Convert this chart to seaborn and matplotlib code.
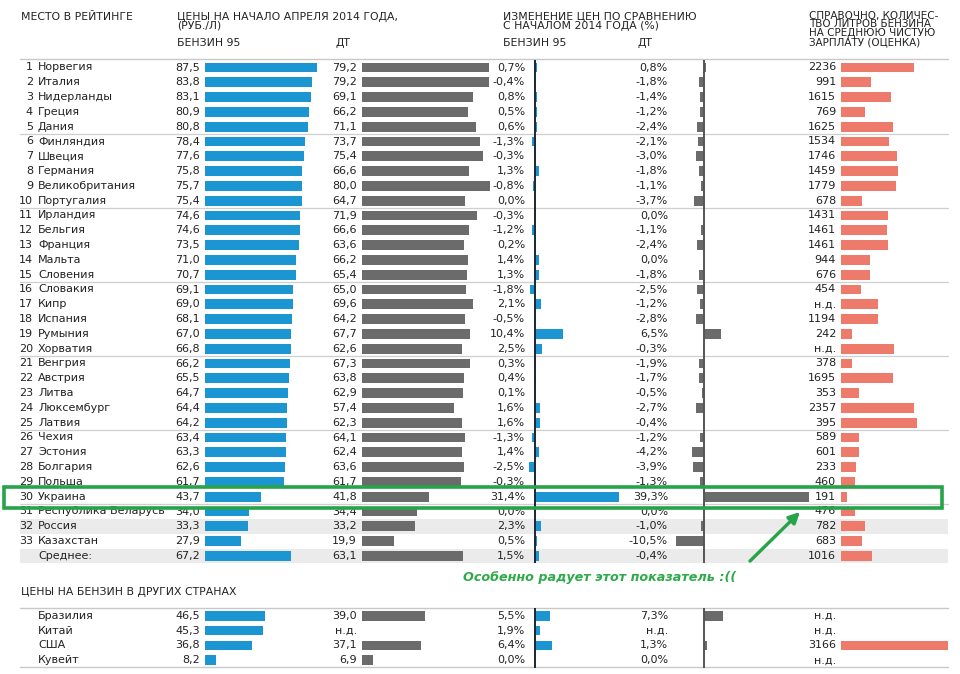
import numpy as np
import pandas as pd
import seaborn as sns
import matplotlib.pyplot as plt
from matplotlib.patches import Rectangle

# --- data ---
ranks = [str(i) for i in range(1, 34)] + [""]
countries = ["Норвегия", "Италия", "Нидерланды", "Греция", "Дания",
             "Финляндия", "Швеция", "Германия", "Великобритания", "Португалия",
             "Ирландия", "Бельгия", "Франция", "Мальта", "Словения",
             "Словакия", "Кипр", "Испания", "Румыния", "Хорватия",
             "Венгрия", "Австрия", "Литва", "Люксембург", "Латвия",
             "Чехия", "Эстония", "Болгария", "Польша", "Украина",
             "Республика Беларусь", "Россия", "Казахстан", "Среднее:"]
gas95 = [87.5, 83.8, 83.1, 80.9, 80.8, 78.4, 77.6, 75.8, 75.7, 75.4,
         74.6, 74.6, 73.5, 71.0, 70.7, 69.1, 69.0, 68.1, 67.0, 66.8,
         66.2, 65.5, 64.7, 64.4, 64.2, 63.4, 63.3, 62.6, 61.7, 43.7,
         34.0, 33.3, 27.9, 67.2]
diesel = [79.2, 79.2, 69.1, 66.2, 71.1, 73.7, 75.4, 66.6, 80.0, 64.7,
          71.9, 66.6, 63.6, 66.2, 65.4, 65.0, 69.6, 64.2, 67.7, 62.6,
          67.3, 63.8, 62.9, 57.4, 62.3, 64.1, 62.4, 63.6, 61.7, 41.8,
          34.4, 33.2, 19.9, 63.1]
gas95_chg = [0.7, -0.4, 0.8, 0.5, 0.6, -1.3, -0.3, 1.3, -0.8, 0.0,
             -0.3, -1.2, 0.2, 1.4, 1.3, -1.8, 2.1, -0.5, 10.4, 2.5,
             0.3, 0.4, 0.1, 1.6, 1.6, -1.3, 1.4, -2.5, -0.3, 31.4,
             0.0, 2.3, 0.5, 1.5]
diesel_chg = [0.8, -1.8, -1.4, -1.2, -2.4, -2.1, -3.0, -1.8, -1.1, -3.7,
              0.0, -1.1, -2.4, 0.0, -1.8, -2.5, -1.2, -2.8, 6.5, -0.3,
              -1.9, -1.7, -0.5, -2.7, -0.4, -1.2, -4.2, -3.9, -1.3, 39.3,
              0.0, -1.0, -10.5, -0.4]
liters_label = ["2236", "991", "1615", "769", "1625", "1534", "1746", "1459",
                "1779", "678", "1431", "1461", "1461", "944", "676", "454",
                "н.д.", "1194", "242", "н.д.", "378", "1695", "353", "2357",
                "395", "589", "601", "233", "460", "191", "476", "782",
                "683", "1016"]
# bar lengths as drawn in the original (they do not always follow the labels)
liters_bar = [2150, 897, 1480, 719, 1539, 1420, 1657, 1687, 1627, 612,
              1391, 1361, 1391, 858, 867, 601, 1095, 1086, 334, 1568,
              334, 1548, 541, 2151, 2258, 533, 541, 453, 414, 169,
              423, 710, 612, 917]

other_countries = ["Бразилия", "Китай", "США", "Кувейт"]
other_gas95 = [46.5, 45.3, 36.8, 8.2]
other_diesel = [39.0, None, 37.1, 6.9]
other_gas95_chg = [5.5, 1.9, 6.4, 0.0]
other_diesel_chg = [7.3, None, 1.3, 0.0]
other_liters_label = ["н.д.", "н.д.", "3166", "н.д."]
other_liters_bar = [None, None, 3166, None]

BLUE = "#1b96d3"
GREY = "#6b6b6b"
SALMON = "#ee7a6c"
GREEN = "#27a34a"
TXT = "#222222"
W, H = 960, 674


def fmt(v, pct=False):
    if v is None:
        return "н.д."
    s = f"{v:.1f}".replace(".", ",")
    return s + "%" if pct else s


def px_axes(fig, x0, x1, y0, y1):
    ax = fig.add_axes([x0 / W, 1 - y1 / H, (x1 - x0) / W, (y1 - y0) / H], zorder=2)
    return ax


def bars(ax, names, values, color, xlim, zero_color=None):
    df = pd.DataFrame({"name": names, "v": pd.to_numeric(pd.Series(values), errors="coerce")}).dropna()
    sns.barplot(data=df, x="v", y="name", order=names, orient="h", color=color,
                saturation=1, width=0.66, errorbar=None, linewidth=0, ax=ax)
    ax.set_xlim(*xlim)
    ax.set_ylim(len(names) - 0.5, -0.5)
    if zero_color:
        ax.axvline(0, color=zero_color, lw=1.4)
    ax.axis("off")


def main():
    sns.set_theme(style="white")
    plt.rcParams["font.family"] = ["DejaVu Sans"]
    fig = plt.figure(figsize=(9.6, 6.74), dpi=100)

    bg = fig.add_axes([0, 0, 1, 1], zorder=0)
    bg.set_xlim(0, W)
    bg.set_ylim(H, 0)
    bg.axis("off")

    top0, step = 67.5, 14.8
    y_top0, y_top1 = top0 - step / 2, top0 + 33 * step + step / 2
    b0, bstep = 615.7, 14.87
    y_bot0, y_bot1 = b0 - bstep / 2, b0 + 3 * bstep + bstep / 2

    # headers
    hs = 7.8
    bg.text(21, 16.5, "МЕСТО В РЕЙТИНГЕ", fontsize=hs, color=TXT, va="center")
    bg.text(177, 16.5, "ЦЕНЫ НА НАЧАЛО АПРЕЛЯ 2014 ГОДА,", fontsize=hs, color=TXT, va="center")
    bg.text(177, 26, "(РУБ./Л)", fontsize=hs, color=TXT, va="center")
    bg.text(177, 42.5, "БЕНЗИН 95", fontsize=hs, color=TXT, va="center")
    bg.text(335, 42.5, "ДТ", fontsize=hs, color=TXT, va="center")
    bg.text(503, 16.5, "ИЗМЕНЕНИЕ ЦЕН ПО СРАВНЕНИЮ", fontsize=hs, color=TXT, va="center")
    bg.text(503, 26, "С НАЧАЛОМ 2014 ГОДА (%)", fontsize=hs, color=TXT, va="center")
    bg.text(503, 42.5, "БЕНЗИН 95", fontsize=hs, color=TXT, va="center")
    bg.text(637, 42.5, "ДТ", fontsize=hs, color=TXT, va="center")
    for k, line in enumerate(["СПРАВОЧНО, КОЛИЧЕС-", "ТВО ЛИТРОВ БЕНЗИНА",
                              "НА СРЕДНЮЮ ЧИСТУЮ", "ЗАРПЛАТУ (ОЦЕНКА)"]):
        bg.text(809, 15.5 + 8.8 * k, line, fontsize=7.5, color=TXT, va="center")
    bg.plot([20, 948], [59, 59], color="#c8c8c8", lw=1)

    # shaded rows and group separators
    for i in (31, 33):
        bg.add_patch(Rectangle((20, top0 + i * step - step / 2), 928, step,
                               color="#ebebeb", lw=0))
    for k in (5, 10, 15, 20, 25, 30):
        y = top0 + (k - 0.5) * step
        bg.plot([20, 948], [y, y], color="#cfcfcf", lw=0.9)

    fs = 8
    for i in range(len(countries)):
        y = top0 + i * step
        bg.text(33, y, ranks[i], fontsize=fs, color=TXT, ha="right", va="center")
        bg.text(38, y, countries[i], fontsize=fs, color=TXT, ha="left", va="center")
        bg.text(200, y, fmt(gas95[i]), fontsize=fs, color=TXT, ha="right", va="center")
        bg.text(357, y, fmt(diesel[i]), fontsize=fs, color=TXT, ha="right", va="center")
        bg.text(525, y, fmt(gas95_chg[i], True), fontsize=fs, color=TXT, ha="right", va="center")
        bg.text(668, y, fmt(diesel_chg[i], True), fontsize=fs, color=TXT, ha="right", va="center")
        bg.text(836, y, liters_label[i], fontsize=fs, color=TXT, ha="right", va="center")

    # other countries
    bg.text(21, 591.7, "ЦЕНЫ НА БЕНЗИН В ДРУГИХ СТРАНАХ", fontsize=hs, color=TXT, va="center")
    bg.plot([20, 948], [607.7, 607.7], color="#c8c8c8", lw=1)
    bg.plot([20, 948], [666.7, 666.7], color="#c8c8c8", lw=1)
    for i in range(len(other_countries)):
        y = b0 + i * bstep
        bg.text(38, y, other_countries[i], fontsize=fs, color=TXT, ha="left", va="center")
        bg.text(200, y, fmt(other_gas95[i]), fontsize=fs, color=TXT, ha="right", va="center")
        bg.text(357, y, fmt(other_diesel[i]), fontsize=fs, color=TXT, ha="right", va="center")
        bg.text(525, y, fmt(other_gas95_chg[i], True), fontsize=fs, color=TXT, ha="right", va="center")
        bg.text(668, y, fmt(other_diesel_chg[i], True), fontsize=fs, color=TXT, ha="right", va="center")
        bg.text(836, y, other_liters_label[i], fontsize=fs, color=TXT, ha="right", va="center")

    # bar columns (x pixel span, x limits in data units)
    cols = [
        (205.3, 320, (0, 89.9), BLUE, gas95, other_gas95, None),
        (362.3, 495, (0, 83.2), GREY, diesel, other_diesel, None),
        (525, 630, (-3.843, 35.34), BLUE, gas95_chg, other_gas95_chg, "#1c2733"),
        (670, 815, (-12.575, 41.53), GREY, diesel_chg, other_diesel_chg, "#555555"),
        (841, 948, (0, 3166), SALMON, liters_bar, other_liters_bar, None),
    ]
    for x0, x1, xlim, color, vals, other_vals, zc in cols:
        ax = px_axes(fig, x0, x1, y_top0, y_top1)
        bars(ax, countries, vals, color, xlim, zc)
        ax2 = px_axes(fig, x0, x1, y_bot0, y_bot1)
        bars(ax2, other_countries, other_vals, color, xlim, zc)

    # highlight
    fg = fig.add_axes([0, 0, 1, 1], zorder=5)
    fg.set_xlim(0, W)
    fg.set_ylim(H, 0)
    fg.axis("off")
    fg.add_patch(Rectangle((4, 487), 938, 21, fill=False, edgecolor=GREEN, lw=2.6))
    fg.annotate("", xy=(802, 510), xytext=(748, 563),
                arrowprops=dict(arrowstyle="-|>", color=GREEN, lw=2.4, mutation_scale=16))
    fg.text(463, 577, "Особенно радует этот показатель :((", fontsize=9.2,
            fontweight="bold", style="italic", color="#2eaa4a", va="center")

    fig.savefig("out.png", dpi=100)
    plt.close(fig)


if __name__ == '__main__':
    main()
